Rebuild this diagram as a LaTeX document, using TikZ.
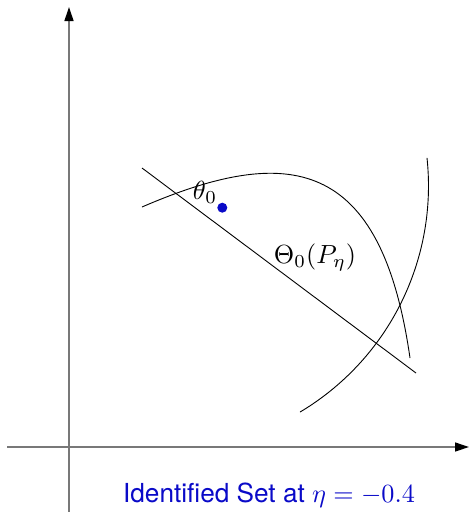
\documentclass[tikz,border=0pt]{standalone}
\usepackage{fontspec}
\newfontfamily\helv{TeX Gyre Heros}
\usetikzlibrary{arrows.meta}
\definecolor{labelblue}{RGB}{10,10,200}
\definecolor{axisgray}{RGB}{120,120,120}
\tikzset{
  axisline/.style={draw=axisgray, line width=1.3pt, -{Triangle[length=14pt,width=9pt,color=black]}},
  curve/.style={draw=black, line width=0.9pt},
  lbl/.style={inner sep=0pt, scale=2.62},
}
\begin{document}
\begin{tikzpicture}[x=1pt,y=-1pt]
\useasboundingbox (0,0) rectangle (469,512);
% axes
\coordinate (xstart) at (7,447);
\coordinate (xend) at (469,447);
\coordinate (ystart) at (69,512);
\coordinate (yend) at (69,7);
\draw[axisline] (xstart) -- (xend);
\draw[axisline] (ystart) -- (yend);
% straight line
\coordinate (la) at (142,168);
\coordinate (lb) at (416,373);
\draw[curve] (la) -- (lb);
% upper curve
\coordinate (ca) at (142,207);
\coordinate (cb) at (410,358);
\draw[curve] (ca) .. controls (288,144) and (381,156) .. (cb);
% right arc
\draw[curve] plot[domain=-6.1:59.2, samples=80, smooth] ({165.2+263.3*cos(\x)},{185.9+263.3*sin(\x)});
% point
\fill[labelblue] (222.3,207.7) circle (5);
\node[lbl] (theta) at (205,192) {$\theta_0$};
\node[lbl] (Theta) at (315,257) {$\Theta_0(P_\eta)$};
\node[lbl, text=labelblue, anchor=base] (title) at (269,502) {\helv Identified Set at $\eta=-0.4$};
\end{tikzpicture}
\end{document}
